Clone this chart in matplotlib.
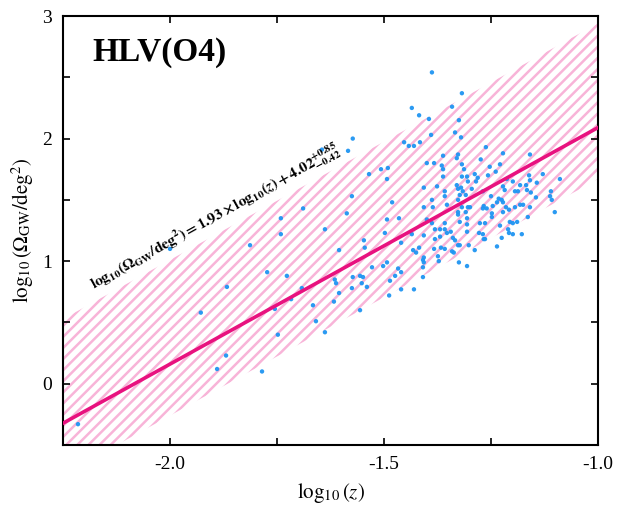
import numpy as np
import matplotlib
matplotlib.use("Agg")
import matplotlib.pyplot as plt
from matplotlib.ticker import MultipleLocator, FuncFormatter

plt.rcParams["font.family"] = ["Liberation Serif", "DejaVu Serif"]
plt.rcParams["mathtext.fontset"] = "stix"
plt.rcParams["hatch.linewidth"] = 1.8

# fit: log10(Omega/deg^2) = slope * log10(z) + intercept (+upper / -lower)
slope = 1.93
intercept = 4.02
band_up = 0.85
band_down = 0.42

log_z = [
    -2.215, -2.000, -1.928, -1.867, -1.869, -1.890, -1.785, -1.813, -1.773, -1.727,
    -1.692, -1.717, -1.755, -1.666, -1.659, -1.748, -1.638, -1.741, -1.741, -1.689,
    -1.638, -1.645, -1.615, -1.612, -1.605, -1.617, -1.605, -1.573, -1.584, -1.535,
    -1.507, -1.491, -1.493, -1.575, -1.587, -1.547, -1.545, -1.481, -1.493, -1.465,
    -1.498, -1.460, -1.435, -1.573, -1.575, -1.556, -1.549, -1.552, -1.540, -1.556,
    -1.528, -1.502, -1.493, -1.486, -1.488, -1.474, -1.467, -1.460, -1.460, -1.430,
    -1.432, -1.425, -1.418, -1.409, -1.407, -1.407, -1.409, -1.409, -1.383, -1.374,
    -1.372, -1.367, -1.358, -1.341, -1.337, -1.334, -1.327, -1.323, -1.302, -1.288,
    -1.325, -1.306, -1.267, -1.236, -1.388, -1.318, -1.435, -1.418, -1.341, -1.395,
    -1.325, -1.390, -1.334, -1.320, -1.453, -1.442, -1.430, -1.416, -1.262, -1.222,
    -1.159, -1.362, -1.327, -1.330, -1.400, -1.383, -1.365, -1.318, -1.362, -1.313,
    -1.253, -1.229, -1.274, -1.362, -1.318, -1.306, -1.239, -1.288, -1.281, -1.285,
    -1.304, -1.257, -1.129, -1.161, -1.159, -1.089, -1.213, -1.199, -1.182, -1.168,
    -1.143, -1.222, -1.218, -1.194, -1.187, -1.166, -1.157, -1.145, -1.110, -1.112,
    -1.108, -1.101, -1.316, -1.295, -1.269, -1.320, -1.407, -1.376, -1.358, -1.358,
    -1.353, -1.388, -1.407, -1.386, -1.330, -1.327, -1.309, -1.323, -1.327, -1.304,
    -1.318, -1.327, -1.327, -1.400, -1.407, -1.388, -1.381, -1.369, -1.358, -1.358,
    -1.369, -1.353, -1.381, -1.344, -1.339, -1.306, -1.306, -1.306, -1.323, -1.309,
    -1.232, -1.225, -1.236, -1.246, -1.250, -1.267, -1.269, -1.260, -1.248, -1.248,
    -1.222, -1.215, -1.208, -1.222, -1.194, -1.182, -1.175, -1.159, -1.164, -1.206,
    -1.199, -1.189, -1.229, -1.276, -1.299, -1.278, -1.269, -1.264, -1.264, -1.210,
    -1.208, -1.199, -1.178, -1.225,
]
log_omega = [
    -0.33, 1.10, 0.58, 0.79, 0.23, 0.12, 0.10, 1.13, 0.91, 0.88,
    0.78, 0.69, 0.61, 0.64, 0.51, 0.40, 0.42, 1.35, 1.22, 1.43,
    1.26, 1.91, 0.85, 0.82, 0.74, 0.67, 1.09, 2.00, 1.90, 1.71,
    1.75, 1.76, 1.67, 1.53, 1.39, 1.17, 1.11, 1.48, 1.34, 1.35,
    1.23, 1.15, 1.22, 0.87, 0.78, 0.88, 0.87, 0.82, 0.79, 0.60,
    0.95, 0.96, 0.99, 0.84, 0.72, 0.88, 0.94, 0.91, 0.77, 0.77,
    1.09, 1.07, 1.11, 1.01, 0.99, 1.03, 0.95, 0.87, 1.10, 1.04,
    1.00, 1.11, 1.10, 1.08, 1.07, 1.17, 1.13, 1.13, 1.13, 1.09,
    0.99, 0.96, 1.18, 1.12, 2.54, 2.37, 2.25, 2.19, 2.26, 2.16,
    2.15, 2.03, 2.05, 2.01, 1.97, 1.94, 1.94, 1.97, 1.93, 1.88,
    1.87, 1.86, 1.87, 1.84, 1.80, 1.80, 1.78, 1.79, 1.75, 1.75,
    1.77, 1.79, 1.83, 1.69, 1.69, 1.69, 1.73, 1.71, 1.68, 1.65,
    1.65, 1.70, 1.71, 1.70, 1.66, 1.67, 1.67, 1.65, 1.62, 1.62,
    1.64, 1.61, 1.58, 1.57, 1.57, 1.58, 1.56, 1.52, 1.57, 1.53,
    1.50, 1.40, 1.57, 1.59, 1.57, 1.60, 1.60, 1.61, 1.57, 1.53,
    1.46, 1.50, 1.44, 1.44, 1.62, 1.59, 1.54, 1.54, 1.50, 1.44,
    1.44, 1.40, 1.38, 1.34, 1.21, 1.31, 1.26, 1.26, 1.26, 1.31,
    1.20, 1.23, 1.18, 1.24, 1.19, 1.30, 1.24, 1.35, 1.32, 1.40,
    1.51, 1.50, 1.48, 1.45, 1.53, 1.45, 1.43, 1.43, 1.39, 1.36,
    1.48, 1.44, 1.42, 1.40, 1.44, 1.46, 1.46, 1.44, 1.36, 1.32,
    1.31, 1.32, 1.29, 1.31, 1.44, 1.23, 1.22, 1.18, 1.31, 1.26,
    1.23, 1.22, 1.22, 1.19,
]

x_min, x_max = -2.25, -1.0
y_min, y_max = -0.5, 3.0

fig = plt.figure(figsize=(6.25, 5.08), dpi=100)
ax = fig.add_axes([0.1008, 0.124, 0.856, 0.8445])

xs = np.linspace(x_min, x_max, 200)
fit = slope * xs + intercept

ax.fill_between(xs, fit - band_down, fit + band_up, facecolor="none",
                edgecolor="#f8b4d8", hatch="///", linewidth=0, zorder=1)
ax.plot(xs, fit, color="#e8127f", linewidth=2.6, zorder=3)
ax.scatter(log_z, log_omega, s=10, color="#1f95f2", edgecolors="none",
           alpha=0.95, zorder=2)

ax.set_xlim(x_min, x_max)
ax.set_ylim(y_min, y_max)

ax.xaxis.set_major_locator(MultipleLocator(0.25))
ax.yaxis.set_major_locator(MultipleLocator(0.5))
ax.xaxis.set_major_formatter(FuncFormatter(
    lambda v, p: f"{v:.1f}" if abs(v * 2 - round(v * 2)) < 1e-6 else ""))
ax.yaxis.set_major_formatter(FuncFormatter(
    lambda v, p: f"{v:.0f}" if abs(v - round(v)) < 1e-6 else ""))
ax.tick_params(direction="in", top=True, right=True, length=5, width=1.2,
               labelsize=14, pad=8)
for sp in ax.spines.values():
    sp.set_linewidth(1.5)

ax.set_xlabel(r"$\log_{10}(z)$", fontsize=15, labelpad=6)
ax.set_ylabel(r"$\log_{10}(\Omega_{\rm GW}/{\rm deg}^2)$", fontsize=15, labelpad=4)

ax.text(0.054, 0.915, "HLV(O4)", transform=ax.transAxes, fontsize=24,
        fontweight="bold", ha="left", va="center")

ax.text(-1.895, 1.36,
        r"$\mathbf{log_{10}(\Omega_{GW}/deg^2) = 1.93 \times log_{10}(}\mathbfit{z}"
        r"\mathbf{) + 4.02^{+0.85}_{-0.42}}$",
        fontsize=11, rotation=29, rotation_mode="anchor",
        ha="center", va="center", zorder=4)

fig.savefig("out.png", dpi=100)
